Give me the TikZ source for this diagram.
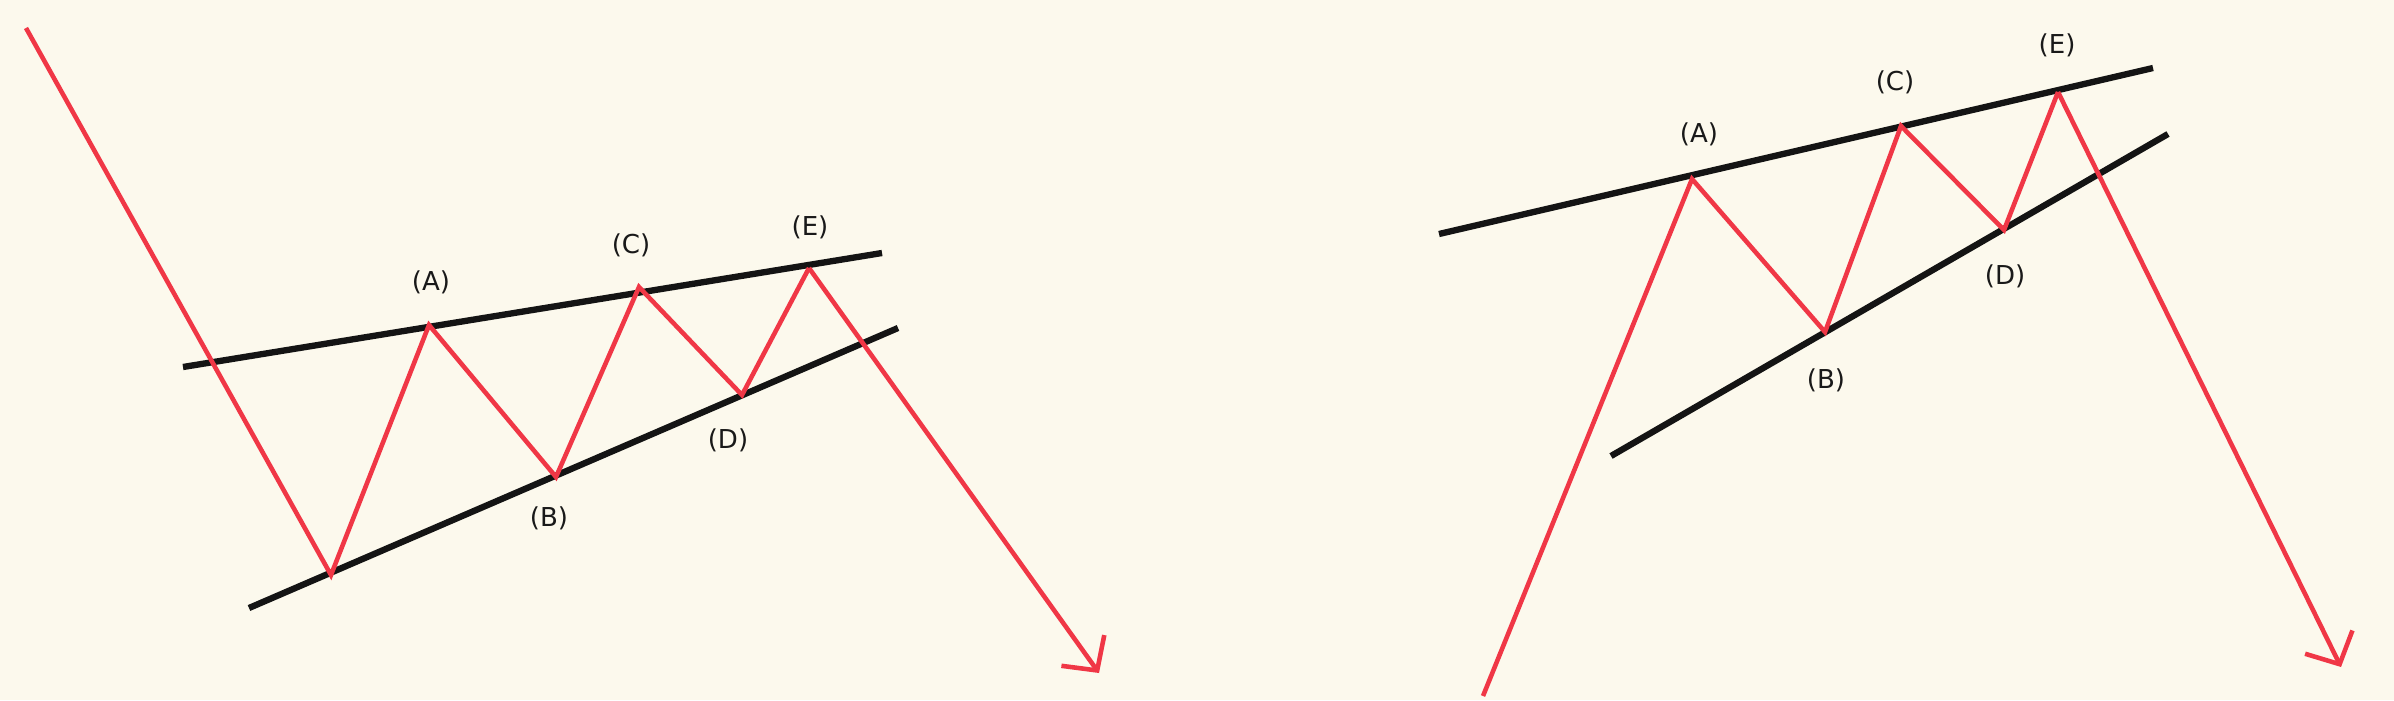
\documentclass[tikz,border=0pt]{standalone}
\usepackage{fontspec}
\setmainfont{DejaVu Sans}
\usetikzlibrary{arrows.meta}
\definecolor{paper}{RGB}{252,249,237}
\definecolor{wavered}{RGB}{240,55,70}
\tikzset{
  trend/.style={line width=1.8pt,black!92},
  wave/.style={line width=1.3pt,wavered,line join=miter},
  lbl/.style={font=\fontsize{7.4}{9}\selectfont,text=black!90,inner sep=0pt},
  breakout/.style={-{Straight Barb[length=7pt,width=15pt,line width=1.3pt]}}
}

\begin{document}
\begin{tikzpicture}[x=0.01cm,y=-0.01cm]
  \fill[paper] (0,0) rectangle (2394,700);
  \useasboundingbox (0,0) rectangle (2394,700);
  % left pattern
  \coordinate (ls) at (26,28);
  \coordinate (lo) at (331,575);
  \coordinate (la) at (429,325);
  \coordinate (lb) at (556,477);
  \coordinate (lc) at (639,287);
  \coordinate (ld) at (742,395);
  \coordinate (le) at (809,268);
  \coordinate (lx) at (1099,673);
  \coordinate (lt1) at (183,367);
  \coordinate (lt2) at (882,253);
  \coordinate (lb1) at (249,608);
  \coordinate (lb2) at (898,328);
  \draw[trend] (lt1) -- (lt2);
  \draw[trend] (lb1) -- (lb2);
  \draw[wave] (ls) -- (lo) -- (la) -- (lb) -- (lc) -- (ld) -- (le);
  \draw[wave,breakout] (le) -- (lx);
  \node[lbl] (lA) at (431,282) {(A)};
  \node[lbl] (lB) at (549,518) {(B)};
  \node[lbl] (lC) at (631,245) {(C)};
  \node[lbl] (lD) at (728,440) {(D)};
  \node[lbl] (lE) at (810,227) {(E)};
  % right pattern
  \coordinate (rs) at (1483,696);
  \coordinate (ra) at (1692,179);
  \coordinate (rb) at (1825,332);
  \coordinate (rc) at (1901,126);
  \coordinate (rd) at (2004,230);
  \coordinate (re) at (2058,92);
  \coordinate (rx) at (2341,667);
  \coordinate (rt1) at (1439,234);
  \coordinate (rt2) at (2153,68);
  \coordinate (rb1) at (1611,456);
  \coordinate (rb2) at (2168,134);
  \draw[trend] (rt1) -- (rt2);
  \draw[trend] (rb1) -- (rb2);
  \draw[wave] (rs) -- (ra) -- (rb) -- (rc) -- (rd) -- (re);
  \draw[wave,breakout] (re) -- (rx);
  \node[lbl] (rA) at (1699,134) {(A)};
  \node[lbl] (rB) at (1826,380) {(B)};
  \node[lbl] (rC) at (1895,82) {(C)};
  \node[lbl] (rD) at (2005,276) {(D)};
  \node[lbl] (rE) at (2057,45) {(E)};
\end{tikzpicture}
\end{document}
